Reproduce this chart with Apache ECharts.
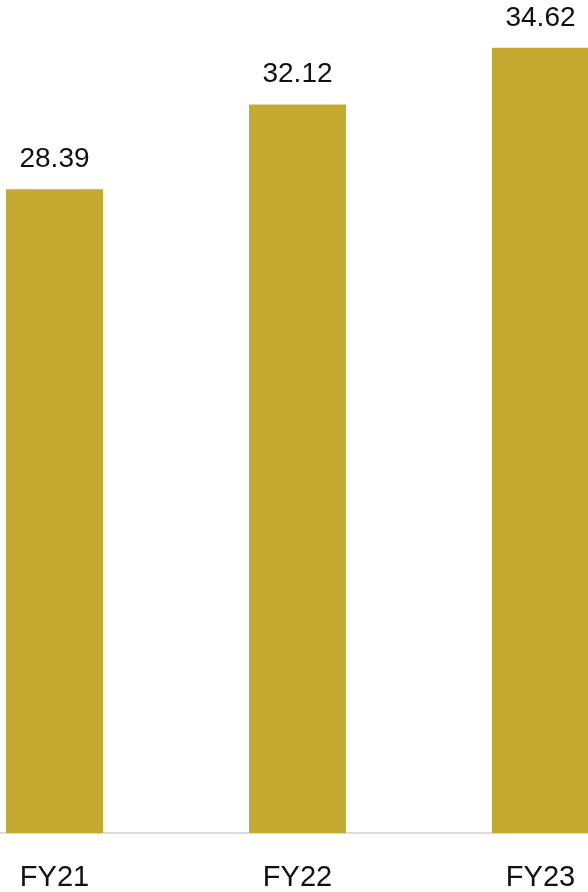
<!DOCTYPE html>
<html><head><meta charset="utf-8">
<script src="https://cdn.jsdelivr.net/npm/echarts@6/dist/echarts.min.js"></script>
<style>html,body{margin:0;padding:0;background:#fff;}#c{width:588px;height:892px;}</style>
</head><body><div id="c"></div>
<script>
var categories = ['FY21', 'FY22', 'FY23'];
var values = [28.39, 32.12, 34.62];

var chart = echarts.init(document.getElementById('c'), null, {renderer: 'canvas'});
chart.setOption({
  animation: false,
  grid: [
    {left: 54.5, right: 47.5, top: 0, bottom: 59, containLabel: false},
    {left: 0, right: 0, top: 0, bottom: 59, containLabel: false}
  ],
  xAxis: [{
    type: 'category',
    gridIndex: 0,
    data: categories,
    boundaryGap: false,
    axisLine: {show: false},
    axisTick: {show: false},
    axisLabel: {color: '#111', fontSize: 29, fontFamily: 'Liberation Sans, Arial, sans-serif', margin: 30}
  }, {
    type: 'category',
    gridIndex: 1,
    data: [''],
    axisLine: {show: true, lineStyle: {color: '#dcdcdc', width: 2}},
    axisTick: {show: false},
    axisLabel: {show: false}
  }],
  yAxis: [{
    type: 'value', gridIndex: 0, min: 0, max: 36.73,
    show: false, splitLine: {show: false}
  }, {
    type: 'value', gridIndex: 1, min: 0, max: 1,
    show: false, splitLine: {show: false}
  }],
  series: [{
    type: 'bar',
    xAxisIndex: 0, yAxisIndex: 0,
    data: values,
    barWidth: 97,
    clip: false,
    z: 3,
    itemStyle: {color: '#C5A830'},
    label: {
      show: true, position: 'top', distance: 16,
      color: '#111', fontSize: 28, fontFamily: 'Liberation Sans, Arial, sans-serif',
      formatter: function (p) { return p.value.toFixed(2); }
    }
  }]
});
</script></body></html>
